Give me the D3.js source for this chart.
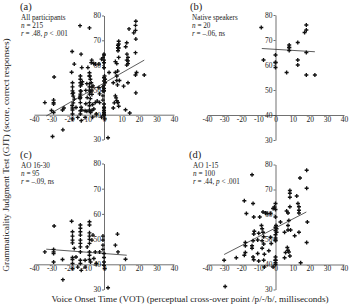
<!DOCTYPE html>
<html>
<head>
<meta charset="utf-8">
<script src="https://cdn.jsdelivr.net/npm/d3@7"></script>
<style>
  body { margin: 0; background: #fff; }
  svg { display: block; font-family: "Liberation Serif", "Times New Roman", serif; }
  .axis path, .axis line { stroke: #333; stroke-width: 0.7; }
  .axis text { font-size: 7.5px; fill: #222; font-family: "Liberation Serif", serif; }
  .note { font-size: 7.2px; fill: #222; }
  .letter { font-size: 10.5px; fill: #222; }
  .title { font-size: 9.2px; fill: #222; }
</style>
</head>
<body>
<div id="chart"></div>
<script>
/* DATA: [VOT, GJT score] */
const nativeSpeakers = [
  [-8.3, 75], [-7, 62], [0, 64], [0, 61], [0, 61], [0, 59], [6.5, 57],
  [8, 68], [8, 67], [8, 67], [8, 65.8], [13, 69], [13, 62], [13, 60],
  [17, 73], [18, 74], [18, 76], [18, 65], [18, 56], [23, 56]
];

const ao16to30 = [
  [-28.5, 55.2], [-33.8, 44.9], [-28.8, 45.9], [-28.8, 44.9], [-28.8, 44.3], [-28.8, 40.9], [-23.7, 41.9],
  [-18.5, 57.1], [-18, 52.9], [-18, 51.2], [-18, 49.6], [-18, 48.5], [-18, 42.7], [-18, 41.9], [-18, 40.3], [-18, 38.3],
  [-15, 38.9], [-13.5, 55.6], [-13.5, 54.3], [-13.5, 52.9], [-13.5, 51.6], [-13.5, 49.6], [-13.5, 48.3],
  [-13.5, 46.9], [-13.5, 44.9], [-13.5, 41.6], [-13.5, 40.3], [-13, 37.6],
  [-17, 46.3], [-16, 42.9], [-10.8, 41.6], [-10.8, 38.9], [-9.6, 46.9],
  [-8.3, 56.9], [-8.3, 55.6], [-8.3, 52.5], [-8.3, 51.2], [-8.3, 49.9], [-8.3, 48.3], [-8.3, 44.9],
  [-8.3, 43.6], [-8.3, 41.9], [-7.7, 40.9],
  [-6.9, 49.6], [-6.3, 51.6], [-5, 44.9], [-5.8, 42.3], [-2.5, 44.9], [-4.4, 40.3],
  [-0.6, 51.2], [-0.6, 49.6], [-0.6, 47.6], [-0.6, 45.9], [0, 44.3], [0, 42.7], [0, 40.9], [0, 39.6], [0.4, 38.3],
  [2.3, 30.7], [-23.5, 33.9], [6.5, 47.6], [7.7, 52], [8, 44.9], [12.3, 42]
];

const ao1to15 = [
  [-13.7, 75.9], [-18.2, 65.5], [-13.1, 64.4], [-17, 60.4], [-12.7, 59], [-9.2, 59], [-7.3, 61],
  [-5.9, 60.6], [-4.9, 60.4], [-2.9, 60.4], [-1.4, 62.4], [-0.6, 63],
  [-8.2, 55.6], [-7.8, 54.3], [-7.3, 52.9], [-6.9, 51.1], [-7.8, 49.5], [-6.9, 48.2], [-7.8, 46.5],
  [-6.5, 44.1], [-6.9, 41.7], [-6.5, 39],
  [-12.4, 53.3], [-12.7, 52.2], [-13.1, 49.5], [-13.7, 47.5], [-13.7, 46.5], [-13.1, 43], [-12.7, 41.9],
  [-9.8, 52.5], [-10.4, 49.8], [-10.4, 44.4], [-9.8, 41.4],
  [-17.6, 48.8], [-17.6, 47.5], [-17.6, 44.8], [-18.2, 43.7], [-22.9, 42.7], [-30, 41.7], [-29.4, 31.2],
  [-2.9, 50.9], [0, 54.9], [0, 53.6], [0, 51.9], [0, 49.8], [0, 41.7], [0, 40], [-1.4, 39], [-3.9, 45.5], [-2.5, 48.4],
  [0, 64.4], [0, 62], [0, 59], [0.3, 55.6], [0.6, 54.3], [0.6, 52.9], [0, 50.6], [0, 49.5], [0, 43], [0, 41.7], [0, 40.7],
  [6.5, 61.4], [7.3, 60.6], [7.8, 57.6], [7.3, 55.6], [7.3, 53.8], [8.8, 53.8], [8.4, 69.6], [8.4, 68.5],
  [8.4, 66.9], [8.4, 63.1], [5.3, 52.9], [11.2, 51.5], [12.4, 67.4], [13.1, 64.4], [13.7, 63.1], [13.7, 61.7],
  [13.7, 60.6], [14.3, 74.6], [13.7, 52.9], [14.7, 40.7], [18.2, 77.7], [18.2, 70.5], [18.6, 57], [18.2, 48.8],
  [6.9, 46.8], [7.3, 45.7], [5.9, 44.8], [7.8, 45], [8.4, 43.4], [5.3, 42.7], [2.9, 57]
];

// panel (a) pools the three groups
const allParticipants = nativeSpeakers.concat(ao16to30, ao1to15);

// regression lines, end points
const fitAll = [[-33, 39.5], [23, 62]];
const fitNative = [[-8, 66.6], [23, 65.3]];
const fitAo16to30 = [[-33, 46], [13, 43.6]];
const fitAo1to15 = [[-30, 44], [18, 61]];

const xTicks = [-40, -30, -20, -10, 0, 10, 20, 30, 40];
const yTicks = [30, 40, 50, 60, 70, 80];

const panelLetters = ["(a)", "(b)", "(c)", "(d)"];
const groupNames = ["All participants", "Native speakers", "AO 16-30", "AO 1-15"];
const groupN = ["215", "20", "95", "100"];
const groupR = [".48", "\u2013.06", "\u2013.09", ".44"];
const groupP = ["< .001", "ns", "ns", "< .001"];

/* LAYOUT */
const width = 350, height = 308;

const panels = [
  { pts: allParticipants, fit: fitAll, xr: [34, 174], yr: [139.5, 15.5], lx: 20, ly: 9.5, tx: 21, ty: 19.5 },
  { pts: nativeSpeakers, fit: fitNative, xr: [207, 344], yr: [140, 15], lx: 190, ly: 9.5, tx: 192, ty: 19.5 },
  { pts: ao16to30, fit: fitAo16to30, xr: [34, 174], yr: [289.5, 163.5], lx: 20, ly: 157.5, tx: 21, ty: 167.5 },
  { pts: ao1to15, fit: fitAo1to15, xr: [207, 344], yr: [289.5, 164.5], lx: 189, ly: 158, tx: 193, ty: 167.5 }
];

const svg = d3.select("#chart")
  .append("svg")
  .attr("width", width)
  .attr("height", height);

svg.append("rect").attr("width", width).attr("height", height).attr("fill", "#fff");

const marker = d3.symbol().type(d3.symbolCross).size(9);

panels.forEach((p, i) => {
  const xScale = d3.scaleLinear().domain([-40, 40]).range(p.xr);
  const yScale = d3.scaleLinear().domain([30, 80]).range(p.yr);
  const g = svg.append("g");

  // x axis crosses at 40, y axis at 0
  g.append("g")
    .attr("class", "axis x-axis")
    .attr("transform", `translate(0,${yScale(40)})`)
    .call(d3.axisBottom(xScale).tickValues(xTicks).tickSize(0).tickPadding(1.5))
    .call(a => a.selectAll("text").text(d => d < 0 ? "-" + Math.abs(d) : d));

  g.append("g")
    .attr("class", "axis y-axis")
    .attr("transform", `translate(${xScale(0)},0)`)
    .call(d3.axisLeft(yScale).tickValues(yTicks).tickSizeInner(2).tickSizeOuter(0).tickPadding(1));

  // regression line
  g.append("line")
    .attr("x1", xScale(p.fit[0][0]))
    .attr("y1", yScale(p.fit[0][1]))
    .attr("x2", xScale(p.fit[1][0]))
    .attr("y2", yScale(p.fit[1][1]))
    .attr("stroke", "#333")
    .attr("stroke-width", 0.8);

  g.selectAll("path.dot")
    .data(p.pts)
    .join("path")
    .attr("class", "dot")
    .attr("d", marker)
    .attr("transform", d => `translate(${xScale(d[0])},${yScale(d[1])})`)
    .attr("fill", "#111");

  // labels
  g.append("text").attr("class", "letter").attr("x", p.lx).attr("y", p.ly).text(panelLetters[i]);

  g.append("text").attr("class", "note").attr("x", p.tx).attr("y", p.ty).text(groupNames[i]);

  const nLine = g.append("text").attr("class", "note").attr("x", p.tx).attr("y", p.ty + 8.2);
  nLine.append("tspan").attr("font-style", "italic").text("n");
  nLine.append("tspan").text(" = " + groupN[i]);

  const rLine = g.append("text").attr("class", "note").attr("x", p.tx).attr("y", p.ty + 16.4);
  rLine.append("tspan").attr("font-style", "italic").text("r");
  rLine.append("tspan").text(" = " + groupR[i] + ", ");
  if (groupP[i] === "ns") {
    rLine.append("tspan").text("ns");
  } else {
    rLine.append("tspan").attr("font-style", "italic").text("p");
    rLine.append("tspan").text(" " + groupP[i]);
  }
});

// shared axis titles
svg.append("text")
  .attr("class", "title")
  .attr("text-anchor", "middle")
  .attr("transform", "translate(8.5,155) rotate(-90)")
  .text("Grammaticality Judgment Test (GJT) (score, correct responses)");

svg.append("text")
  .attr("class", "title")
  .attr("text-anchor", "middle")
  .attr("x", 190)
  .attr("y", 302)
  .text("Voice Onset Time (VOT) (perceptual cross-over point /p/-/b/, milliseconds)");
</script>
</body>
</html>
